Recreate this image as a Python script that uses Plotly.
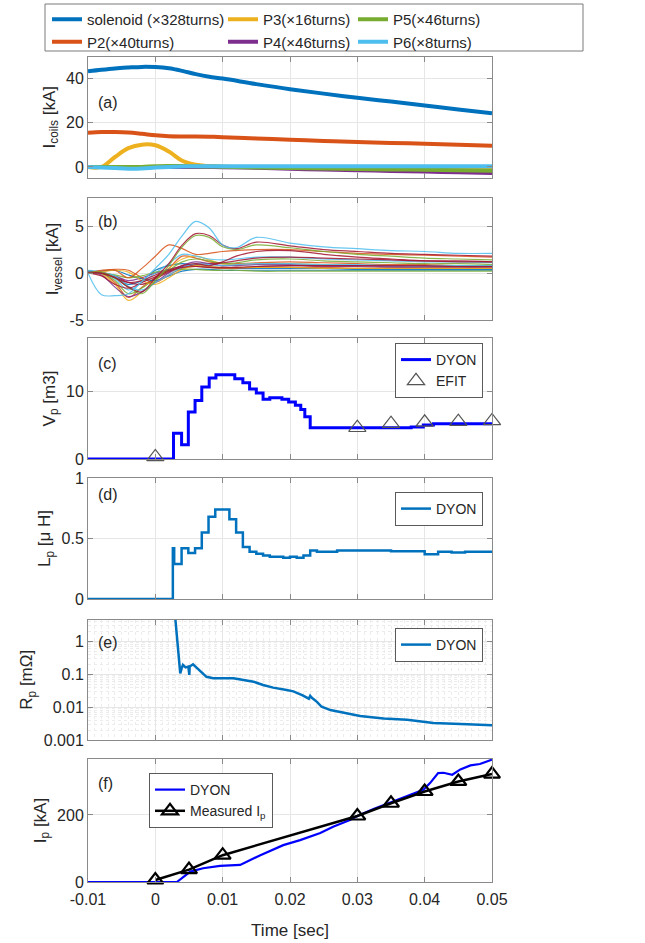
import plotly.graph_objects as go

# ---------------- data ----------------
x_tick_vals = [-0.01, 0.0, 0.01, 0.02, 0.03, 0.04, 0.05]
x_tick_text = ["-0.01", "0", "0.01", "0.02", "0.03", "0.04", "0.05"]

# (a) coil currents [kA]
t_coil = [-0.01, -0.008, -0.006, -0.004, -0.002, 0.0, 0.002, 0.004, 0.006, 0.008, 0.01,
          0.015, 0.02, 0.025, 0.03, 0.035, 0.04, 0.045, 0.05]
i_solenoid = [43.3, 44.0, 44.6, 45.0, 45.3, 45.2, 44.7, 43.5, 42.0, 40.8, 40.0,
              37.5, 35.2, 33.2, 31.3, 29.6, 27.8, 26.0, 24.3]
i_p2 = [15.5, 15.8, 15.8, 15.6, 15.0, 14.3, 13.9, 13.8, 13.8, 13.7, 13.5,
        12.9, 12.3, 11.8, 11.3, 10.9, 10.5, 10.0, 9.6]
i_p3 = [0.0, 0.0, 4.5, 8.5, 10.1, 9.8, 7.0, 2.8, 1.0, 0.4, 0.1,
        -0.1, -0.2, -0.2, -0.3, -0.3, -0.3, -0.3, -0.3]
i_p4 = [0.0, 0.0, 0.0, 0.0, 0.0, 0.0, 0.0, 0.0, 0.0, 0.0, -0.1,
        -0.4, -0.8, -1.2, -1.5, -1.8, -2.1, -2.4, -2.7]
i_p5 = [0.0, 0.0, 0.0, 0.0, 0.0, 0.3, 0.4, 0.4, 0.3, 0.2, 0.1,
        -0.2, -0.5, -0.7, -0.9, -1.1, -1.3, -1.5, -1.7]
i_p6 = [0.0, -0.2, -0.5, -0.8, -0.7, -0.3, 0.0, 0.2, 0.3, 0.3, 0.3,
        0.3, 0.3, 0.3, 0.3, 0.3, 0.3, 0.3, 0.3]
coil_names = ["solenoid (\u00d7328turns)", "P2(\u00d740turns)", "P3(\u00d716turns)",
              "P4(\u00d746turns)", "P5(\u00d746turns)", "P6(\u00d78turns)"]

# (b) vessel currents [kA] (representative traces)
t_vessel = [-0.01, -0.008, -0.006, -0.004, -0.002, 0.0, 0.002, 0.004, 0.006, 0.008, 0.01,
            0.012, 0.015, 0.02, 0.025, 0.03, 0.035, 0.04, 0.045, 0.05]
v01 = [0.2, 0.0, -0.5, -1.2, -0.8, 0.3, 0.8, 1.0, 0.8, 0.6, 0.5, 0.5, 0.5, 0.5, 0.5, 0.4, 0.4, 0.4, 0.4, 0.4]
v02 = [0.2, 0.0, -1.0, -2.6, -1.5, -0.5, 0.5, 1.8, 1.6, 1.2, 1.0, 1.0, 1.1, 1.2, 1.1, 1.0, 0.9, 0.9, 0.8, 0.8]
v03 = [0.2, -0.1, -1.2, -2.9, -2.0, -0.8, 0.5, 1.5, 1.8, 1.4, 1.0, 0.9, 1.0, 1.0, 0.9, 0.8, 0.8, 0.7, 0.7, 0.7]
v04 = [0.1, 0.1, -0.3, -0.8, -0.5, 0.0, 0.4, 0.7, 0.8, 0.7, 0.6, 0.6, 0.7, 0.8, 0.7, 0.7, 0.6, 0.6, 0.6, 0.6]
v05 = [0.2, 0.0, -0.8, -2.2, -1.6, -0.6, 0.3, 1.2, 1.5, 1.3, 1.0, 1.1, 1.4, 1.5, 1.3, 1.2, 1.1, 1.0, 1.0, 0.9]
v06 = [0.3, 0.1, -0.6, -1.8, -1.0, 0.0, 1.0, 2.0, 1.8, 1.5, 1.4, 1.5, 1.7, 1.7, 1.5, 1.4, 1.3, 1.2, 1.2, 1.1]
v07 = [0.1, 0.0, -0.4, -1.0, -1.2, -0.6, 0.1, 0.6, 0.9, 1.0, 1.1, 1.3, 1.6, 1.7, 1.6, 1.5, 1.4, 1.3, 1.3, 1.2]
v08 = [0.1, 0.2, 0.3, -0.2, -0.6, -0.8, -0.3, 0.2, 0.4, 0.4, 0.3, 0.3, 0.3, 0.3, 0.3, 0.3, 0.3, 0.3, 0.3, 0.3]
v09 = [0.0, 0.2, 0.4, 0.3, -0.5, -1.0, -0.2, 0.5, 0.7, 0.6, 0.5, 0.5, 0.6, 0.6, 0.6, 0.5, 0.5, 0.5, 0.5, 0.5]
v10 = [0.0, 0.1, 0.3, 0.1, -0.8, -1.2, -0.5, 0.4, 0.8, 0.7, 0.6, 0.6, 0.6, 0.6, 0.5, 0.5, 0.5, 0.5, 0.5, 0.5]
v11 = [0.1, -0.2, -1.5, -2.5, -2.0, -1.0, 0.0, 0.8, 1.2, 1.0, 0.8, 0.8, 0.9, 0.9, 0.8, 0.8, 0.7, 0.7, 0.7, 0.7]
v12 = [0.0, 0.0, -0.2, -0.5, -0.3, 0.1, 0.3, 0.4, 0.4, 0.3, 0.3, 0.3, 0.2, 0.2, 0.2, 0.2, 0.2, 0.2, 0.2, 0.2]
v13 = [0.1, 0.0, -0.3, -1.4, -1.8, -1.0, -0.2, 0.6, 1.0, 0.9, 0.8, 0.9, 1.0, 1.0, 0.9, 0.9, 0.8, 0.8, 0.8, 0.8]
v14 = [0.0, -0.3, -1.2, -1.6, -1.0, -0.4, 0.2, 0.6, 0.7, 0.6, 0.6, 0.6, 0.7, 0.8, 0.8, 0.8, 0.8, 0.8, 0.7, 0.7]
v15 = [0.0, 0.3, 0.3, -0.5, 0.5, 1.8, 3.0, 2.6, 2.0, 2.1, 2.3, 2.4, 2.5, 2.5, 2.3, 2.1, 2.0, 1.9, 1.8, 1.7]
v16 = [0.0, 0.0, -0.5, -1.0, -0.8, -0.2, 0.3, 0.8, 1.0, 0.8, 1.2, 1.8, 2.3, 2.4, 2.0, 1.7, 1.5, 1.3, 1.2, 1.2]
v17 = [0.0, 0.1, -0.5, -1.5, -2.2, -0.8, 0.8, 2.8, 4.0, 3.8, 2.8, 2.5, 3.0, 2.7, 2.3, 2.0, 1.8, 1.6, 1.5, 1.4]
v18 = [0.0, 0.0, -0.5, -1.5, -2.0, -0.5, 1.0, 3.0, 4.2, 4.0, 3.0, 2.6, 3.3, 2.9, 2.5, 2.3, 2.1, 2.0, 1.9, 1.8]
v19 = [0.0, -2.3, -2.4, -2.2, -0.9, 0.5, 2.0, 4.0, 5.5, 4.8, 3.0, 2.7, 3.8, 3.2, 2.8, 2.6, 2.4, 2.3, 2.1, 2.1]
vessel_traces = [v01, v02, v03, v04, v05, v06, v07, v08, v09, v10, v11, v12, v13, v14, v15, v16, v17, v18, v19]

# (c) plasma volume [m3]
t_vp = [-0.01, 0.0027, 0.0039, 0.0049, 0.0059, 0.0069, 0.0080, 0.0090, 0.0118, 0.0130,
        0.0140, 0.0150, 0.0160, 0.0170, 0.0188, 0.0198, 0.0208, 0.0216, 0.0222, 0.0230,
        0.0300, 0.0380, 0.0398, 0.0413, 0.050]
vp_dyon = [0.0, 3.8, 2.1, 6.9, 8.6, 10.6, 11.9, 12.4, 11.8, 11.2,
           10.3, 9.7, 8.8, 9.0, 8.8, 8.4, 7.9, 7.3, 6.2, 4.6,
           4.6, 4.7, 5.0, 5.2, 5.2]
t_efit = [0.0, 0.03, 0.035, 0.04, 0.045, 0.05]
vp_efit = [0.3, 4.6, 5.2, 5.4, 5.5, 5.6]

# (d) plasma inductance [uH]
t_lp = [-0.01, 0.0026, 0.0028, 0.0039, 0.0049, 0.0059, 0.0069, 0.0079, 0.0089, 0.0110,
        0.0120, 0.0130, 0.0140, 0.0150, 0.0160, 0.0170, 0.0190, 0.0200, 0.0210, 0.0220,
        0.0230, 0.0240, 0.0270, 0.0350, 0.0400, 0.0420, 0.0440, 0.0460, 0.050]
lp_dyon = [0.0, 0.42, 0.29, 0.42, 0.38, 0.42, 0.55, 0.68, 0.74, 0.66,
           0.55, 0.43, 0.39, 0.375, 0.36, 0.35, 0.34, 0.35, 0.34, 0.36,
           0.40, 0.39, 0.40, 0.395, 0.37, 0.39, 0.385, 0.39, 0.39]

# (e) plasma resistance [mOhm]
t_rp = [0.0027, 0.0031, 0.0032, 0.0037, 0.0039, 0.0041, 0.0045, 0.0049, 0.00505, 0.0051,
        0.0056, 0.0066, 0.0076, 0.0086, 0.0116, 0.0131, 0.0146, 0.0160, 0.0175, 0.0195,
        0.0205, 0.0218, 0.0222, 0.0228, 0.0230, 0.0232, 0.0240, 0.0247, 0.0260, 0.0284,
        0.0304, 0.0339, 0.0374, 0.0398, 0.0413, 0.0463, 0.050]
rp_dyon = [20.0, 2.3, 2.0, 0.105, 0.15, 0.19, 0.16, 0.17, 0.095, 0.17,
           0.20, 0.13, 0.083, 0.075, 0.075, 0.066, 0.059, 0.047, 0.039, 0.033,
           0.030, 0.023, 0.021, 0.018, 0.022, 0.0195, 0.0144, 0.0102, 0.0081, 0.0064,
           0.0054, 0.0045, 0.0041, 0.0036, 0.0033, 0.0030, 0.0028]

# (f) plasma current [kA]
t_ip = [-0.01, 0.0032, 0.0052, 0.0071, 0.0096, 0.0126, 0.0156, 0.019, 0.0215, 0.0245,
        0.0264, 0.0289, 0.030, 0.0324, 0.0349, 0.0374, 0.0398, 0.0408, 0.0420, 0.0428,
        0.0441, 0.0453, 0.0468, 0.0482, 0.050]
ip_dyon = [0, 0, 31, 41, 48, 51, 80, 110, 125, 146,
           165, 185, 197, 218, 237, 257, 275, 295, 325, 326,
           320, 336, 348, 352, 365]
t_meas = [0.0, 0.005, 0.01, 0.03, 0.035, 0.04, 0.045, 0.05]
ip_meas = [6, 37, 80, 197, 235, 270, 300, 322]

# ---------------- figure ----------------
FONT = "Liberation Sans, Arial, sans-serif"
TXT = "#262626"
AXC = "#8a8a8a"
GRID = "#e6e6e6"

fig = go.Figure()

coil_series = [i_solenoid, i_p2, i_p3, i_p4, i_p5, i_p6]
coil_colors = ["#0072BD", "#D95319", "#EDB120", "#7E2F8E", "#77AC30", "#4DBEEE"]
coil_legends = ["legend", "legend", "legend2", "legend2", "legend3", "legend3"]
for name, ys, col, lg in zip(coil_names, coil_series, coil_colors, coil_legends):
    fig.add_trace(go.Scatter(x=t_coil, y=ys, mode="lines", name=name,
                             line=dict(color=col, width=4, shape="spline"),
                             legend=lg, xaxis="x", yaxis="y"))

vessel_colors = ["#0072BD", "#D95319", "#EDB120", "#7E2F8E", "#77AC30", "#4DBEEE", "#A2142F",
                 "#0072BD", "#D95319", "#EDB120", "#7E2F8E", "#77AC30", "#4DBEEE", "#A2142F",
                 "#D95319", "#A2142F", "#77AC30", "#A2142F", "#4DBEEE"]
for ys, col in zip(vessel_traces, vessel_colors):
    fig.add_trace(go.Scatter(x=t_vessel, y=ys, mode="lines", showlegend=False,
                             line=dict(color=col, width=1.2, shape="spline"),
                             opacity=0.85, xaxis="x2", yaxis="y2"))

fig.add_trace(go.Scatter(x=t_vp, y=vp_dyon, mode="lines", name="DYON",
                         line=dict(color="#0000FF", width=3, shape="hv"),
                         legend="legend4", xaxis="x3", yaxis="y3"))
fig.add_trace(go.Scatter(x=t_efit, y=vp_efit, mode="markers", name="EFIT",
                         marker=dict(symbol="triangle-up-open", size=15, color="#555555",
                                     line=dict(width=1.2)),
                         cliponaxis=False,
                         legend="legend4", xaxis="x3", yaxis="y3"))

fig.add_trace(go.Scatter(x=t_lp, y=lp_dyon, mode="lines", name="DYON",
                         line=dict(color="#0072BD", width=2.5, shape="hv"),
                         legend="legend5", xaxis="x4", yaxis="y4"))

fig.add_trace(go.Scatter(x=t_rp, y=rp_dyon, mode="lines", name="DYON",
                         line=dict(color="#0072BD", width=2.5),
                         legend="legend6", xaxis="x5", yaxis="y5"))

fig.add_trace(go.Scatter(x=t_ip, y=ip_dyon, mode="lines", name="DYON",
                         line=dict(color="#0000FF", width=2.2),
                         legend="legend7", xaxis="x6", yaxis="y6"))
fig.add_trace(go.Scatter(x=t_meas, y=ip_meas, mode="lines+markers", name="Measured I<sub>p</sub>",
                         line=dict(color="#000000", width=2.5),
                         marker=dict(symbol="triangle-up-open", size=14, color="#000000",
                                     line=dict(width=2.2)),
                         cliponaxis=False,
                         legend="legend7", xaxis="x6", yaxis="y6"))

PH = 826.0
def dom(top_px, bot_px):
    return [(882 - bot_px) / PH, (882 - top_px) / PH]

panels = [
    dict(d=dom(56.5, 178), rng=[-5, 50], tv=[0, 20, 40], tt=["0", "20", "40"],
         title="I<sub>coils</sub> [kA]", lab="(a)", ly=0.62),
    dict(d=dom(198, 320), rng=[-5, 8], tv=[-5, 0, 5], tt=["-5", "0", "5"],
         title="I<sub>vessel</sub> [kA]", lab="(b)", ly=0.81),
    dict(d=dom(338, 459), rng=[0, 17.8], tv=[0, 10], tt=["0", "10"],
         title="V<sub>p</sub> [m3]", lab="(c)", ly=0.79),
    dict(d=dom(478, 599), rng=[0, 1], tv=[0, 0.5, 1], tt=["0", "0.5", "1"],
         title="L<sub>p</sub> [\u03bc H]", lab="(d)", ly=0.86),
    dict(d=dom(619.5, 740), rng=[-3, 0.66], tv=[0.001, 0.01, 0.1, 1],
         tt=["0.001", "0.01", "0.1", "1"], title="R<sub>p</sub> [m\u03a9]", lab="(e)", ly=0.81),
    dict(d=dom(759, 882), rng=[0, 367], tv=[0, 200], tt=["0", "200"],
         title="I<sub>p</sub> [kA]", lab="(f)", ly=0.80),
]

layout = dict(
    width=645, height=943,
    margin=dict(l=88, r=153, t=56, b=61, autoexpand=False),
    paper_bgcolor="white", plot_bgcolor="white",
    font=dict(family=FONT, size=16, color=TXT),
    annotations=[], shapes=[],
)

minor_log_vals = [k * 10.0 ** e for e in range(-3, 1) for k in range(2, 10)]

for i, p in enumerate(panels):
    n = "" if i == 0 else str(i + 1)
    last = (i == len(panels) - 1)
    xa = dict(domain=[0, 1], range=[-0.01, 0.05], anchor="y" + n,
              tickmode="array", tickvals=x_tick_vals, ticktext=x_tick_text,
              showticklabels=last, ticks="inside", ticklen=5, tickcolor=AXC,
              showline=True, linecolor=AXC, linewidth=1, mirror="ticks",
              showgrid=True, gridcolor=GRID, gridwidth=1, zeroline=False,
              tickfont=dict(size=16, color=TXT))
    if last:
        xa["title"] = dict(text="Time [sec]", font=dict(size=17, color=TXT), standoff=16)
        xa["ticklabelstandoff"] = 3
    ya = dict(domain=p["d"], anchor="x" + n, range=p["rng"],
              tickmode="array", tickvals=p["tv"], ticktext=p["tt"],
              ticks="inside", ticklen=5, tickcolor=AXC,
              showline=True, linecolor=AXC, linewidth=1, mirror="ticks",
              showgrid=True, gridcolor=GRID, gridwidth=1, zeroline=False,
              tickfont=dict(size=16, color=TXT),
              title=dict(text=p["title"], font=dict(size=17, color=TXT), standoff=6))
    if i == 4:
        ya["type"] = "log"
        ya["minor"] = dict(tickmode="array", tickvals=minor_log_vals, showgrid=True,
                           gridcolor="#ececec", griddash="dot", ticks="")
        xa["minor"] = dict(dtick=0.001, showgrid=True, gridcolor="#ececec",
                           griddash="dot", ticks="")
    layout["xaxis" + n] = xa
    layout["yaxis" + n] = ya
    layout["annotations"].append(dict(
        text=p["lab"], xref="x%s domain" % n, yref="y%s domain" % n,
        x=0.021, y=p["ly"], xanchor="left", yanchor="middle", showarrow=False,
        font=dict(size=16, color=TXT)))

def px_x(px):
    return (px - 88) / 404.0

def px_y(py):
    return (882 - py) / PH

top_leg = dict(bgcolor="rgba(0,0,0,0)", borderwidth=0, orientation="v",
               yanchor="top", xanchor="left", font=dict(size=15, color=TXT),
               tracegroupgap=0, traceorder="normal")
layout["legend"] = dict(top_leg, x=px_x(47), y=px_y(3))
layout["legend2"] = dict(top_leg, x=px_x(223), y=px_y(3))
layout["legend3"] = dict(top_leg, x=px_x(353), y=px_y(3))
layout["shapes"].append(dict(type="rect", xref="paper", yref="paper",
                             x0=px_x(45), x1=px_x(583), y0=px_y(51), y1=px_y(4),
                             line=dict(color="#7a7a7a", width=1), fillcolor="rgba(0,0,0,0)"))

box_leg = dict(bgcolor="white", bordercolor="#5a5a5a", borderwidth=1, orientation="v",
               font=dict(size=14, color=TXT), traceorder="normal")
layout["legend4"] = dict(box_leg, x=px_x(483), y=px_y(343), xanchor="right", yanchor="top")
layout["legend5"] = dict(box_leg, x=px_x(483), y=px_y(492), xanchor="right", yanchor="top")
layout["legend6"] = dict(box_leg, x=px_x(483), y=px_y(628), xanchor="right", yanchor="top")
layout["legend7"] = dict(box_leg, x=px_x(149), y=px_y(773), xanchor="left", yanchor="top")

fig.update_layout(**layout)
fig.write_html("out.html")
